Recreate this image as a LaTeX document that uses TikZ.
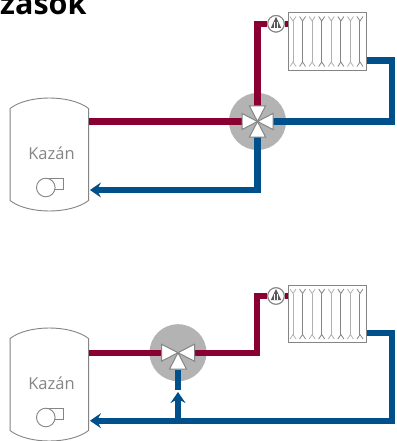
\documentclass[tikz,border=0pt]{standalone}
\usepackage{fontspec}
\setmainfont{Open Sans}
\usetikzlibrary{arrows.meta,calc}
\definecolor{hot}{HTML}{8A0033}
\definecolor{cold}{HTML}{00508C}
\definecolor{disc}{HTML}{B3B3B3}
\definecolor{edge}{HTML}{858585}
\definecolor{tube}{HTML}{B0B0B0}
\tikzset{
  pipehot/.style={draw=hot,line width=6.4pt},
  pipecold/.style={draw=cold,line width=6.4pt},
  headed/.style={-{Stealth[length=11pt,width=15pt,inset=4pt]}},
  valvedisc/.style={circle,fill=disc,minimum size=57pt,inner sep=0pt},
  radbox/.style={rectangle,draw=edge,line width=1pt,fill=white,minimum width=78pt,minimum height=57.5pt,inner sep=0pt},
  gaugenode/.style={circle,draw=edge,line width=1pt,fill=white,minimum size=16.5pt,inner sep=0pt},
  boilerbox/.style={rectangle,minimum width=78.5pt,minimum height=121pt,inner sep=0pt},
  boilerline/.style={draw=edge,line width=0.9pt,fill=white},
  flap/.style={draw=edge,line width=1pt,fill=white,line join=miter},
  lbl/.style={text=edge,font=\fontsize{16.5}{20}\selectfont,inner sep=0pt},
  fan/.style={draw=edge,line width=0.9pt,fill=white},
}
\newcommand{\drawboiler}[1]{%
  \path[boilerline] (#1.west) ++(0,-46) .. controls +(18,-14) and +(-18,-14) .. ++(78.5,0)
    -- ++(0,92) .. controls +(-18,14) and +(18,14) .. ++(-78.5,0) -- cycle;
}
\newcommand{\drawfan}[1]{%
  \draw[fan] ($(#1)+(0,-9.2)$) -- ++(18,0) -- ++(0,11) -- ++(-18,0);
  \draw[fan] (#1) circle (9.3);
}
\newcommand{\drawrad}[1]{%
  \foreach \i/\c in {0/tube,1/edge,2/tube,3/edge,4/tube,5/edge,6/tube,7/edge}{
    \pgfmathsetmacro{\xx}{-34.5+\i*9.57}
    \draw[\c,line width=1pt] ($(#1)+(\xx,-20.5)$) -- ($(#1)+(\xx,20.5)$);
    \draw[\c,line width=0.8pt] ($(#1)+(\xx-3,-25)$) -- ($(#1)+(\xx,-20.5)$) -- ($(#1)+(\xx+3,-25)$);
    \draw[\c,line width=0.8pt] ($(#1)+(\xx-3,25)$) -- ($(#1)+(\xx,20.5)$) -- ($(#1)+(\xx+3,25)$);
  }
}
\newcommand{\drawgauge}[1]{%
  \fill[black!65] ($(#1)+(0,-7)$) -- ($(#1)+(5.2,4.2)$) -- ($(#1)+(-5.2,4.2)$) -- cycle;
  \draw[white,line width=0.6pt] ($(#1)+(-1.7,-2)$) -- ($(#1)+(-1.7,4.2)$) ($(#1)+(1.5,-2)$) -- ($(#1)+(1.5,4.2)$);
}
\begin{document}
\begin{tikzpicture}[x=1pt,y=-1pt]
\clip (0,0) rectangle (396,441);
\fill[white] (0,0) rectangle (396,441);

\node[anchor=base west,inner sep=0pt,font=\fontsize{30.5}{32}\selectfont\bfseries] (title) at (0,15) {zások};

% top circuit
\node[boilerbox] (boilerA) at (49.5,154.5) {};
\drawboiler{boilerA}
\node[lbl] (kazanA) at (51.5,153) {Kazán};
\coordinate (fanA) at (45.8,187.5);
\drawfan{fanA}
\node[valvedisc] (valveA) at (257.5,121.5) {};
\node[radbox] (radA) at (327.5,41.5) {};
\drawrad{radA}
\node[gaugenode] (gaugeA) at (276,23.8) {};
\coordinate (aRet) at (boilerA.east |- 0,190);
\coordinate (aHot) at (boilerA.east |- valveA);
\draw[pipehot] (aHot) -- ($(valveA.center)+(-15,0)$);
\draw[pipehot] ($(valveA.center)+(0,-15)$) -- (valveA.center |- gaugeA) -- (gaugeA);
\draw[pipehot] (gaugeA) -- (radA.west |- gaugeA);
\coordinate (aOut) at ($(radA.east)+(0,19)$);
\coordinate (aCorner) at (392,0);
\draw[pipecold,line join=miter] (aOut) -- (aCorner |- aOut) -- (aCorner |- valveA) -- ($(valveA.center)+(15,0)$);
\draw[pipecold,headed] ($(valveA.center)+(0,15)$) -- (valveA.center |- aRet) -- ($(aRet)+(1,0)$);
\node[gaugenode] at (gaugeA) {};
\drawgauge{gaugeA}
\foreach \a in {0,90,180,270}{
  \begin{scope}[shift={(valveA.center)},rotate=\a]
    \draw[flap] (0,0) -- (-8,-15.5) -- (8,-15.5) -- cycle;
  \end{scope}
}

% bottom circuit
\node[boilerbox] (boilerB) at (49.5,384.5) {};
\drawboiler{boilerB}
\node[lbl] (kazanB) at (51.5,383) {Kazán};
\coordinate (fanB) at (45.8,417.5);
\drawfan{fanB}
\node[valvedisc] (valveB) at (178,352.7) {};
\node[radbox] (radB) at (327.5,314) {};
\drawrad{radB}
\node[gaugenode] (gaugeB) at (276,296) {};
\coordinate (bRet) at (boilerB.east |- 0,420.7);
\coordinate (bHot) at (boilerB.east |- valveB);
\coordinate (bKnee) at (257,0);
\draw[pipehot] (bHot) -- ($(valveB.center)+(-16,0)$);
\draw[pipehot,line join=miter] ($(valveB.center)+(16,0)$) -- (bKnee |- valveB) -- (bKnee |- gaugeB) -- (gaugeB);
\draw[pipehot] (gaugeB) -- (radB.west |- gaugeB);
\coordinate (bOut) at ($(radB.east)+(0,19)$);
\coordinate (bCorner) at (392,0);
\draw[pipecold,headed,line join=miter] (bOut) -- (bCorner |- bOut) -- (bCorner |- bRet) -- ($(bRet)+(1,0)$);
\draw[pipecold] ($(valveB.center)+(0,17)$) -- (valveB.center |- 0,390);
\draw[pipecold,headed] (valveB.center |- bRet) -- (valveB.center |- 0,392);
\node[gaugenode] at (gaugeB) {};
\drawgauge{gaugeB}
\foreach \a in {90,180,270}{
  \begin{scope}[shift={(valveB.center)},rotate=\a]
    \draw[flap] (0,0) -- (-8.5,-16.5) -- (8.5,-16.5) -- cycle;
  \end{scope}
}
\end{tikzpicture}
\end{document}
